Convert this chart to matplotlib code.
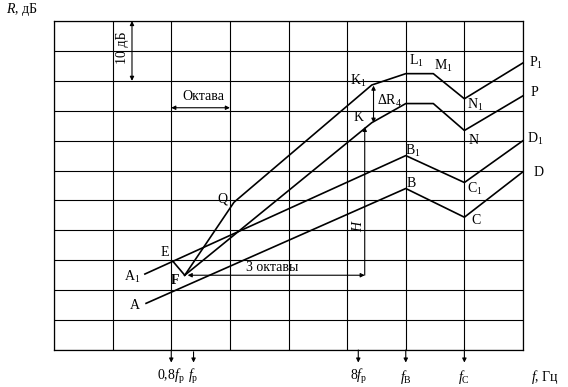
import numpy as np
import matplotlib.pyplot as plt

plt.rcParams['font.family'] = ['Liberation Serif', 'DejaVu Serif']
plt.rcParams['mathtext.fontset'] = 'custom'
plt.rcParams['mathtext.rm'] = 'Liberation Serif'
plt.rcParams['mathtext.it'] = 'Liberation Serif:italic'

# x in octaves from the left edge, y in dB
a_line = ([1.57, 6.0, 7.0, 8.0], [7.8, 27.0, 22.2, 29.8])      # A-B-C-D
a1_line = ([1.55, 6.0, 7.0, 8.0], [12.7, 32.5, 28.0, 35.0])    # A1-B1-C1-D1
upper = ([2.23, 3.07, 5.42, 6.0, 6.47, 7.0, 8.0],
         [12.5, 24.7, 44.3, 46.2, 46.2, 42.0, 48.0])           # F-Q-K1-L1-M1-N1-P1
lower = ([2.23, 5.42, 6.0, 6.47, 7.0, 8.0],
         [12.5, 38.0, 41.2, 41.2, 36.7, 42.5])                 # F-K-L-M-N-P
ef_line = ([2.03, 2.23], [14.8, 12.5])

labels = [('A$_1$', 1.33, 12.2), ('A', 1.38, 7.5), ('E', 1.89, 16.3),
          ('Q', 2.87, 25.3), ('K$_1$', 5.19, 45.0), ('K', 5.19, 38.8),
          ('L$_1$', 6.18, 48.3), ('M$_1$', 6.64, 47.5), ('N$_1$', 7.18, 41.0),
          ('N', 7.15, 35.0), ('P$_1$', 8.22, 48.0), ('P', 8.2, 43.0),
          ('D$_1$', 8.2, 35.3), ('D', 8.26, 29.7), ('B$_1$', 6.12, 33.3),
          ('B', 6.1, 27.8), ('C$_1$', 7.18, 27.0), ('C', 7.2, 21.7)]

freq_pos = [2.0, 2.38, 5.19, 6.0, 7.0]
freq_lbl = ['0,8$f_{\\rm p}$', '$f_{\\rm p}$', '8$f_{\\rm p}$', '$f_{\\rm B}$', '$f_{\\rm C}$']

fig = plt.figure(figsize=(5.68, 3.87), dpi=100)
ax = fig.add_axes([0.0951, 0.0956, 0.8257, 0.8501])
ax.set_xlim(0, 8)
ax.set_ylim(0, 55)
ax.set_xticks(np.arange(0, 9))
ax.set_yticks(np.arange(0, 56, 5))
ax.tick_params(length=0, labelbottom=False, labelleft=False)
ax.grid(True, color='black', lw=0.8)
for s in ax.spines.values():
    s.set_linewidth(0.9)

lw = 1.2
for xs, ys in [a_line, a1_line, upper, lower, ef_line]:
    ax.plot(xs, ys, color='black', lw=lw, clip_on=False)

for t, x, y in labels:
    ax.text(x, y, t, fontsize=10, ha='center', va='center')
ax.text(2.06, 11.7, 'F', fontsize=10, ha='center', va='center', fontweight='bold')

arr = dict(arrowstyle='<|-|>', color='black', lw=0.8, mutation_scale=6, shrinkA=0, shrinkB=0)
arr1 = dict(arrowstyle='-|>', color='black', lw=0.8, mutation_scale=6, shrinkA=0, shrinkB=0)

# 10 dB
ax.annotate('', xy=(1.33, 45), xytext=(1.33, 55), arrowprops=arr)
ax.text(1.16, 50.5, '10 дБ', rotation=90, fontsize=10, ha='center', va='center')
# octave
ax.annotate('', xy=(3.0, 40.5), xytext=(2.0, 40.5), arrowprops=arr)
ax.text(2.54, 42.3, 'Октава', fontsize=10, ha='center', va='center')
# 3 octaves + H
ax.annotate('', xy=(5.3, 12.5), xytext=(2.28, 12.5), arrowprops=arr)
ax.text(3.72, 13.8, '3 октавы', fontsize=10, ha='center', va='center')
ax.annotate('', xy=(5.3, 37.3), xytext=(5.3, 12.5), arrowprops=arr1)
ax.text(5.19, 20.8, '$H$', rotation=90, fontsize=10, ha='center', va='center')
# delta R4
ax.annotate('', xy=(5.45, 44.2), xytext=(5.45, 38.0), arrowprops=arr)
ax.text(5.72, 41.6, '$\\Delta$R$_4$', fontsize=10, ha='center', va='center')

# frequency markers below the axis
for x, t in zip(freq_pos, freq_lbl):
    y0 = -0.3 if t == '$f_{\\rm p}$' else 0
    ax.annotate('', xy=(x, -2.1), xytext=(x, y0), arrowprops=arr1, annotation_clip=False)
    ax.text(x, -4.5, t, fontsize=10, ha='center', va='center')
ax.text(8.38, -4.5, '$f$, Гц', fontsize=10, ha='center', va='center')
ax.text(-0.55, 57.0, '$R$, дБ', fontsize=10, ha='center', va='center')

fig.savefig('out.png', dpi=100)
